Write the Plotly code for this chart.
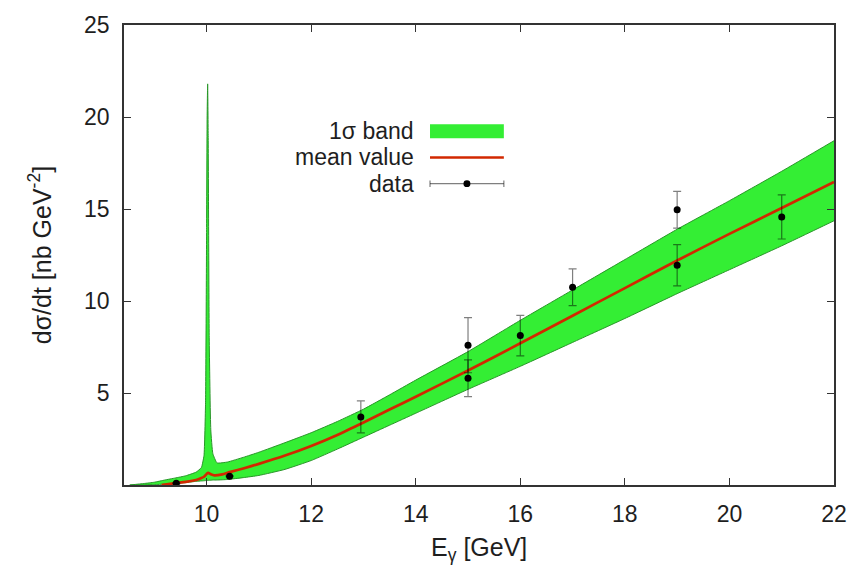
import plotly.graph_objects as go

# Photon energy grid for the 1-sigma band (GeV) and its edges (nb/GeV^2)
band_E = [8.53, 8.8, 9.0, 9.2, 9.4, 9.6, 9.8, 9.9, 9.95, 9.98, 10.0, 10.01,
          10.02, 10.03, 10.05, 10.08, 10.12, 10.2, 10.4, 10.7, 11.0, 11.5,
          12.0, 12.5, 13.0, 13.5, 14.0, 15.0, 16.0, 17.0, 18.0, 19.0, 20.0,
          21.0, 22.0]
band_upper = [0.0, 0.08, 0.15, 0.27, 0.38, 0.5, 0.7, 0.95, 1.6, 4.5, 14.0, 20.0,
              21.8, 19.0, 8.0, 3.0, 1.7, 1.2, 1.25, 1.5, 1.78, 2.3,
              2.84, 3.45, 4.12, 4.9, 5.7, 7.25, 8.95, 10.6, 12.25, 13.9, 15.45,
              17.05, 18.71]
band_lower = [0.0, 0.0, 0.02, 0.05, 0.09, 0.13, 0.2, 0.22, 0.23, 0.24, 0.25, 0.25,
              0.25, 0.25, 0.26, 0.26, 0.27, 0.27, 0.3, 0.4, 0.52, 0.85,
              1.33, 1.95, 2.6, 3.25, 3.9, 5.2, 6.45, 7.75, 9.05, 10.4, 11.7,
              13.0, 14.36]

# Mean value of the fit
mean_E = [9.14, 9.4, 9.6, 9.8, 9.9, 9.95, 10.0, 10.03, 10.08, 10.15, 10.3, 10.44,
          10.7, 11.0, 11.5, 12.0, 12.5, 13.0, 13.5, 14.0, 15.0, 16.0, 17.0,
          18.0, 19.0, 20.0, 21.0, 22.0]
mean_val = [0.0, 0.1, 0.17, 0.27, 0.38, 0.45, 0.6, 0.66, 0.58, 0.52, 0.58, 0.7,
            0.9, 1.15, 1.6, 2.12, 2.72, 3.4, 4.1, 4.8, 6.22, 7.7, 9.2,
            10.7, 12.2, 13.65, 15.05, 16.47]

# Measured cross sections
data_E = [9.42, 10.44, 12.95, 15.0, 15.0, 16.0, 17.0, 19.0, 19.0, 21.0]
data_val = [0.09, 0.48, 3.7, 7.6, 5.8, 8.12, 10.75, 14.96, 11.94, 14.57]
data_err = [0.03, 0.03, 0.87, 1.5, 1.0, 1.1, 1.0, 1.0, 1.12, 1.2]

x_ticks = [10, 12, 14, 16, 18, 20, 22]
y_ticks = [5, 10, 15, 20, 25]

FONT = "Liberation Sans, Arial, sans-serif"
TXT = "#1e1e1e"
GREEN = "rgb(52,238,52)"
EDGE = "rgb(40,150,40)"
RED = "rgb(210,40,0)"
BAR = "rgba(0,0,0,0.5)"

fig = go.Figure()

# lower edge, then upper edge filled down to it
fig.add_trace(go.Scatter(
    x=band_E, y=band_lower, mode="lines",
    line=dict(color=EDGE, width=1, shape="spline", smoothing=0.4),
    hoverinfo="skip", showlegend=False,
))
fig.add_trace(go.Scatter(
    x=band_E, y=band_upper, mode="lines",
    fill="tonexty", fillcolor=GREEN,
    line=dict(color=EDGE, width=1, shape="spline", smoothing=0.4),
    hoverinfo="skip", showlegend=False,
))

fig.add_trace(go.Scatter(
    x=mean_E, y=mean_val, mode="lines",
    line=dict(color=RED, width=2.7, shape="spline", smoothing=0.6),
    showlegend=False,
))

fig.add_trace(go.Scatter(
    x=data_E, y=data_val, mode="markers",
    marker=dict(color="black", size=7),
    error_y=dict(type="data", array=data_err, color=BAR, thickness=1.2, width=4),
    showlegend=False,
))

axis_common = dict(
    showgrid=False, zeroline=False, showline=True, linecolor="#333",
    linewidth=1.5, mirror="ticks", ticks="inside", ticklen=7,
    tickcolor="#333", tickwidth=1, ticklabeloverflow="allow",
    tickfont=dict(family=FONT, size=23, color=TXT),
)

fig.update_xaxes(range=[8.42, 22], tickvals=x_ticks, ticklabelstandoff=8,
                 **axis_common)
fig.update_yaxes(range=[0, 25], tickvals=y_ticks, ticklabelstandoff=8,
                 **axis_common)

# Axis titles
fig.add_annotation(text="dσ/dt [nb GeV<sup>-2</sup>]", textangle=-90,
                   xref="paper", yref="paper", x=-0.118, y=0.5,
                   xanchor="center", yanchor="middle", showarrow=False,
                   font=dict(family=FONT, size=25, color=TXT))
fig.add_annotation(text="E<sub>γ</sub> [GeV]",
                   xref="paper", yref="paper", x=0.5, y=-0.14,
                   xanchor="center", yanchor="middle", showarrow=False,
                   font=dict(family=FONT, size=25, color=TXT))

# Key, gnuplot style: labels right-aligned with samples to their right
key_labels = ["1σ band", "mean value", "data"]
key_rows = [0.769, 0.712, 0.655]
for lab, yr in zip(key_labels, key_rows):
    fig.add_annotation(text=lab, xref="paper", yref="paper", x=0.411, y=yr,
                       xanchor="right", yanchor="middle", showarrow=False,
                       font=dict(family=FONT, size=23, color=TXT))

sx0, sx1 = 0.431, 0.535
fig.add_shape(type="rect", xref="paper", yref="paper", x0=sx0, x1=sx1,
              y0=key_rows[0] - 0.015, y1=key_rows[0] + 0.015,
              fillcolor=GREEN, line=dict(width=0))
fig.add_shape(type="line", xref="paper", yref="paper", x0=sx0, x1=sx1,
              y0=key_rows[1], y1=key_rows[1], line=dict(color=RED, width=2.7))
fig.add_shape(type="line", xref="paper", yref="paper", x0=sx0, x1=sx1,
              y0=key_rows[2], y1=key_rows[2], line=dict(color=BAR, width=1.2))
for cx in (sx0, sx1):
    fig.add_shape(type="line", xref="paper", yref="paper", x0=cx, x1=cx,
                  y0=key_rows[2] - 0.007, y1=key_rows[2] + 0.007,
                  line=dict(color=BAR, width=1.2))
mx = (sx0 + sx1) / 2
fig.add_shape(type="circle", xref="paper", yref="paper",
              x0=mx - 0.0049, x1=mx + 0.0049,
              y0=key_rows[2] - 0.0074, y1=key_rows[2] + 0.0074,
              fillcolor="black", line=dict(width=0))

fig.update_layout(
    width=859, height=571,
    margin=dict(l=124, r=21, t=15, b=86),
    plot_bgcolor="white", paper_bgcolor="white",
    font=dict(family=FONT),
    showlegend=False,
)

fig.write_html("out.html")
